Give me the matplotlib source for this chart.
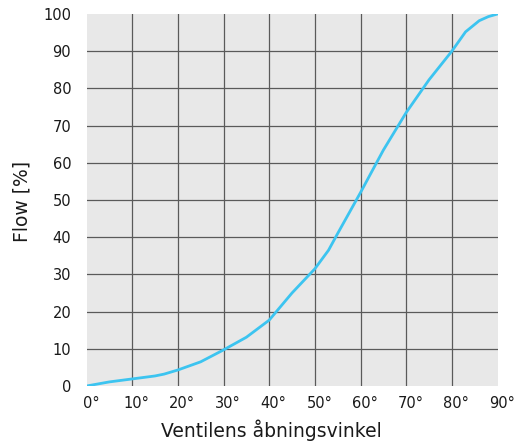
import matplotlib.pyplot as plt
import matplotlib.transforms as mtransforms

# valve opening angle (deg) vs flow (%)
angle = [0, 5, 10, 15, 17, 20, 25, 30, 35, 40, 45, 50, 53, 55, 60, 65, 70, 75, 80, 83, 86, 88, 90]
flow = [0, 1.1, 1.9, 2.7, 3.2, 4.3, 6.5, 9.7, 13.1, 17.7, 25, 31.5, 36.5, 41, 52, 63.4, 73.5, 82.3, 90, 95.2, 98.2, 99.3, 100]

xticks = [0, 10, 20, 30, 40, 50, 60, 70, 80, 90]
yticks = [0, 10, 20, 30, 40, 50, 60, 70, 80, 90, 100]

fig = plt.figure(figsize=(5.15, 4.42), dpi=100)
ax = fig.add_axes([86.5 / 515, 1 - 386 / 442, 411 / 515, 372 / 442])
ax.set_facecolor('#e8e8e8')
for s in ax.spines.values():
    s.set_visible(False)

ax.plot(angle, flow, color='#3cc4f0', lw=2.0, solid_capstyle='round', zorder=3)

ax.set_xlim(0, 90)
ax.set_ylim(0, 100)
ax.set_xticks(xticks)
ax.set_xticklabels([f'{t}°' for t in xticks])
ax.set_yticks(yticks)
ax.set_yticklabels([str(t) for t in yticks])
ax.tick_params(length=0, labelsize=10.5, colors='#1a1a1a', pad=7)
ax.tick_params(axis='y', pad=11)

# shift x labels so the number sits on the grid line
offset = mtransforms.ScaledTranslation(4.5 / 100, 0, fig.dpi_scale_trans)
for lbl in ax.get_xticklabels():
    lbl.set_transform(lbl.get_transform() + offset)

ax.grid(True, color='#5a5a5a', lw=0.9)
ax.set_axisbelow(True)
# no grid lines on the edges of the plot area
for gl in (ax.get_xgridlines()[0], ax.get_xgridlines()[-1],
           ax.get_ygridlines()[0], ax.get_ygridlines()[-1]):
    gl.set_visible(False)

ax.set_xlabel('Ventilens åbningsvinkel', fontsize=13.5, color='#1a1a1a')
ax.xaxis.set_label_coords(0.451, -0.089)
ax.set_ylabel('Flow [%]', fontsize=13.5, color='#1a1a1a')
ax.yaxis.set_label_coords(-0.133, 0.495)

fig.savefig('out.png', dpi=100)
